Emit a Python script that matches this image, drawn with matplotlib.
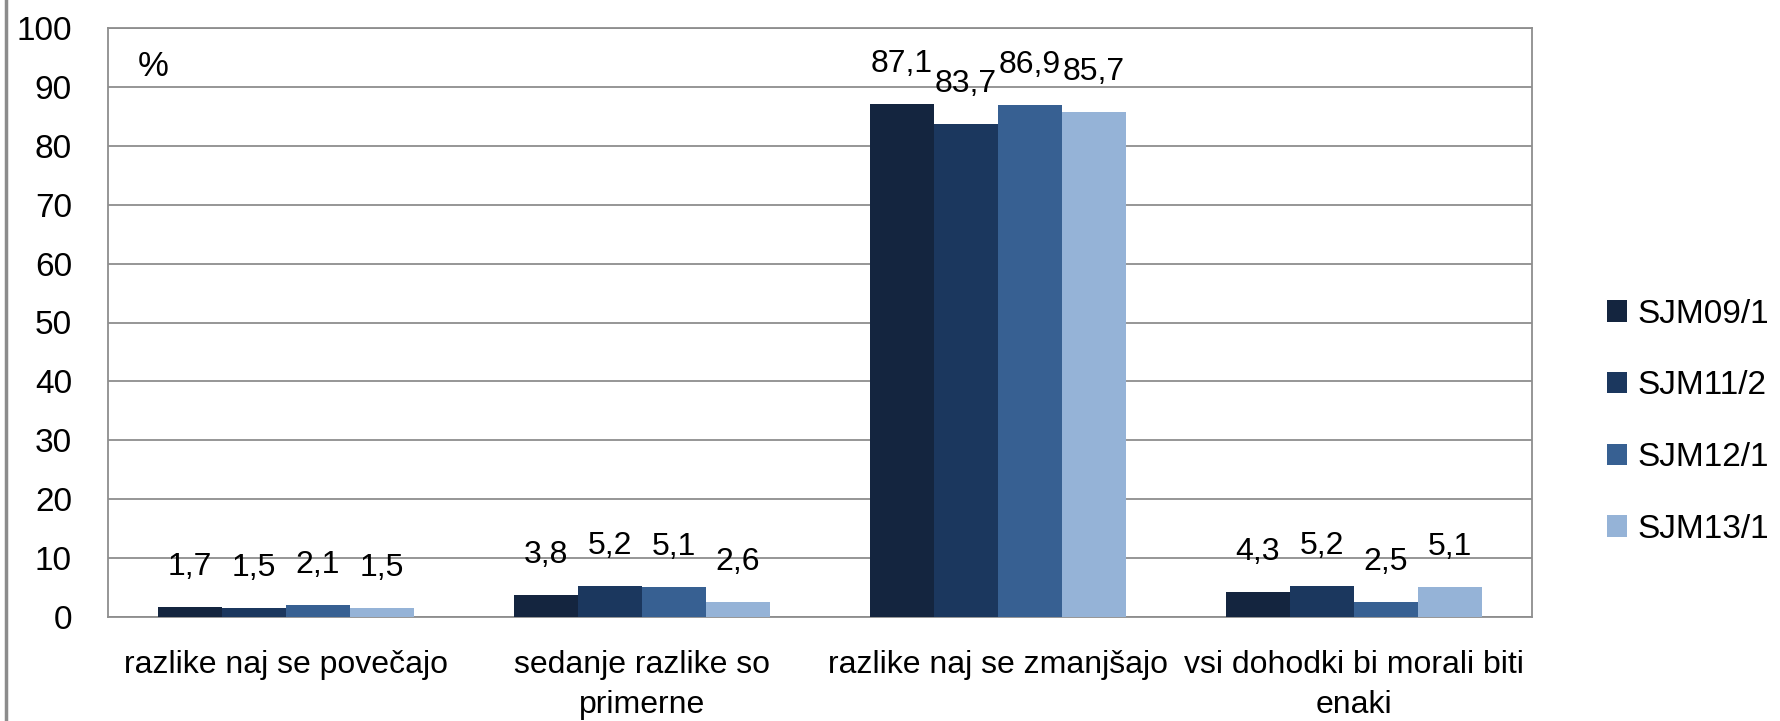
import matplotlib.pyplot as plt
import numpy as np
from matplotlib.lines import Line2D

plt.rcParams['font.family'] = ['Liberation Sans', 'DejaVu Sans']

categories = ['razlike naj se povečajo', 'sedanje razlike so\nprimerne',
              'razlike naj se zmanjšajo', 'vsi dohodki bi morali biti\nenaki']
series = ['SJM09/1', 'SJM11/2', 'SJM12/1', 'SJM13/1']
sjm09 = [1.7, 3.8, 87.1, 4.3]
sjm11 = [1.5, 5.2, 83.7, 5.2]
sjm12 = [2.1, 5.1, 86.9, 2.5]
sjm13 = [1.5, 2.6, 85.7, 5.1]
yticks = [0, 10, 20, 30, 40, 50, 60, 70, 80, 90, 100]

colors = ['#14253F', '#1B375E', '#376092', '#95B3D7']
grid_col = '#8E8E8E'

fig = plt.figure(figsize=(17.81, 7.21), dpi=100)
ax = fig.add_axes([108 / 1781, 1 - 617 / 721, (1532 - 108) / 1781, (617 - 28) / 721])

x = np.arange(len(categories))
w = 0.18
for i, vals in enumerate([sjm09, sjm11, sjm12, sjm13]):
    bars = ax.bar(x + (i - 1.5) * w, vals, w, color=colors[i], label=series[i],
                  zorder=3)
    ax.bar_label(bars, labels=[f'{v:.1f}'.replace('.', ',') for v in vals],
                 padding=18, fontsize=23)

ax.set_xlim(-0.5, len(categories) - 0.5)
ax.set_ylim(0, 100)
ax.set_yticks(yticks)
ax.set_xticks(x)
ax.set_xticklabels(categories, fontsize=23, linespacing=1.4)
ax.tick_params(axis='y', length=0, pad=26, labelsize=24)
ax.tick_params(axis='x', length=0, pad=24)
ax.yaxis.grid(True, color=grid_col, linewidth=1.3, zorder=0)
for s in ax.spines.values():
    s.set_color(grid_col)
    s.set_linewidth(1.3)

ax.text(0.021, 0.963, '%', transform=ax.transAxes, fontsize=25, va='top',
        ha='left')

fig.legend(loc='center left', bbox_to_anchor=(1607 / 1781, 0.415), frameon=False,
           fontsize=24, handlelength=0.6, handleheight=0.6, handletextpad=0.3,
           labelspacing=1.22, borderpad=0, borderaxespad=0)

# chart border on the left edge
fig.add_artist(Line2D([5.5 / 1781, 5.5 / 1781], [0, 1], color='#8C8C8C',
                      linewidth=2.5, transform=fig.transFigure))

fig.savefig('out.png', dpi=100)
